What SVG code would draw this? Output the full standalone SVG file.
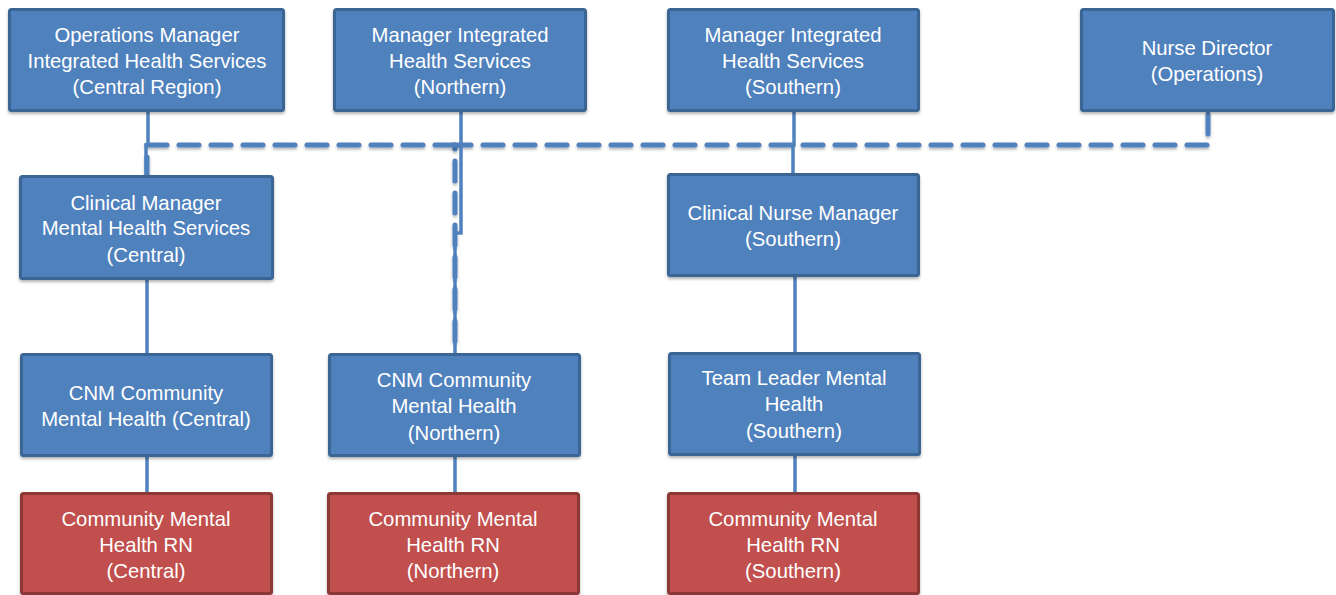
<svg xmlns="http://www.w3.org/2000/svg" width="1336" height="595" viewBox="0 0 1336 595">
<defs>
<filter id="sh" x="-10%" y="-10%" width="120%" height="130%">
<feDropShadow dx="0" dy="2" stdDeviation="1.5" flood-color="#000" flood-opacity="0.3"/>
</filter>
</defs>
<style>
.b{fill:#4f81bd;stroke:#3b6594;stroke-width:3}
.r{fill:#c0504d;stroke:#8c3836;stroke-width:3}
text{font-family:"Liberation Sans",Arial,sans-serif;font-size:20.3px;fill:#fff;text-anchor:middle}
.s{fill:none;stroke:#4f81bd;stroke-width:3.5}
.d{fill:none;stroke:#4f81bd;stroke-width:5;stroke-dasharray:20 12;stroke-linecap:round}
</style>
<rect width="1336" height="595" fill="#fff"/>
<g id="connectors">
<path class="d" filter="url(#sh)" d="M1208 114 V145 H455 V353"/>
<path class="d" filter="url(#sh)" d="M455 145 H147 V175"/>
<path class="s" d="M148 112 V145 H146 V175"/>
<path class="s" d="M147 280 V353"/>
<path class="s" d="M147 457 V492"/>
<path class="s" d="M461 112 V233 H455 V353"/>
<path class="s" d="M455 457 V492"/>
<path class="s" d="M794 112 V145 H793 V173"/>
<path class="s" d="M795 277 V352"/>
<path class="s" d="M795 456 V492"/>
</g>
<g id="n1"><rect class="b" filter="url(#sh)" x="9.5" y="9.5" width="274" height="101" rx="2"/><text x="147" y="42">Operations Manager</text><text x="147" y="68">Integrated Health Services</text><text x="147" y="94">(Central Region)</text></g>
<g id="n2"><rect class="b" filter="url(#sh)" x="334.5" y="9.5" width="251" height="101" rx="2"/><text x="460" y="42">Manager Integrated</text><text x="460" y="68">Health Services</text><text x="460" y="94">(Northern)</text></g>
<g id="n3"><rect class="b" filter="url(#sh)" x="668.5" y="9.5" width="250" height="101" rx="2"/><text x="793" y="42">Manager Integrated</text><text x="793" y="68">Health Services</text><text x="793" y="94">(Southern)</text></g>
<g id="n4"><rect class="b" filter="url(#sh)" x="1081.5" y="9.5" width="252" height="101" rx="2"/><text x="1207" y="55">Nurse Director</text><text x="1207" y="81">(Operations)</text></g>
<g id="n5"><rect class="b" filter="url(#sh)" x="20.5" y="176.5" width="252" height="102" rx="2"/><text x="146" y="210">Clinical Manager</text><text x="146" y="235">Mental Health Services</text><text x="146" y="262">(Central)</text></g>
<g id="n6"><rect class="b" filter="url(#sh)" x="668.5" y="174.5" width="250" height="101" rx="2"/><text x="793" y="220">Clinical Nurse Manager</text><text x="793" y="246">(Southern)</text></g>
<g id="n7"><rect class="b" filter="url(#sh)" x="21.5" y="354.5" width="250" height="101" rx="2"/><text x="146" y="400">CNM Community</text><text x="146" y="426">Mental Health (Central)</text></g>
<g id="n8"><rect class="b" filter="url(#sh)" x="329.5" y="354.5" width="250" height="101" rx="2"/><text x="454" y="387">CNM Community</text><text x="454" y="413">Mental Health</text><text x="454" y="440">(Northern)</text></g>
<g id="n9"><rect class="b" filter="url(#sh)" x="669.5" y="353.5" width="250" height="101" rx="2"/><text x="794" y="385">Team Leader Mental</text><text x="794" y="411">Health</text><text x="794" y="438">(Southern)</text></g>
<g id="n10"><rect class="r" filter="url(#sh)" x="21.5" y="493.5" width="250" height="100" rx="2"/><text x="146" y="526">Community Mental</text><text x="146" y="552">Health RN</text><text x="146" y="578">(Central)</text></g>
<g id="n11"><rect class="r" filter="url(#sh)" x="328.5" y="493.5" width="250" height="100" rx="2"/><text x="453" y="526">Community Mental</text><text x="453" y="552">Health RN</text><text x="453" y="578">(Northern)</text></g>
<g id="n12"><rect class="r" filter="url(#sh)" x="668.5" y="493.5" width="250" height="100" rx="2"/><text x="793" y="526">Community Mental</text><text x="793" y="552">Health RN</text><text x="793" y="578">(Southern)</text></g>
</svg>
